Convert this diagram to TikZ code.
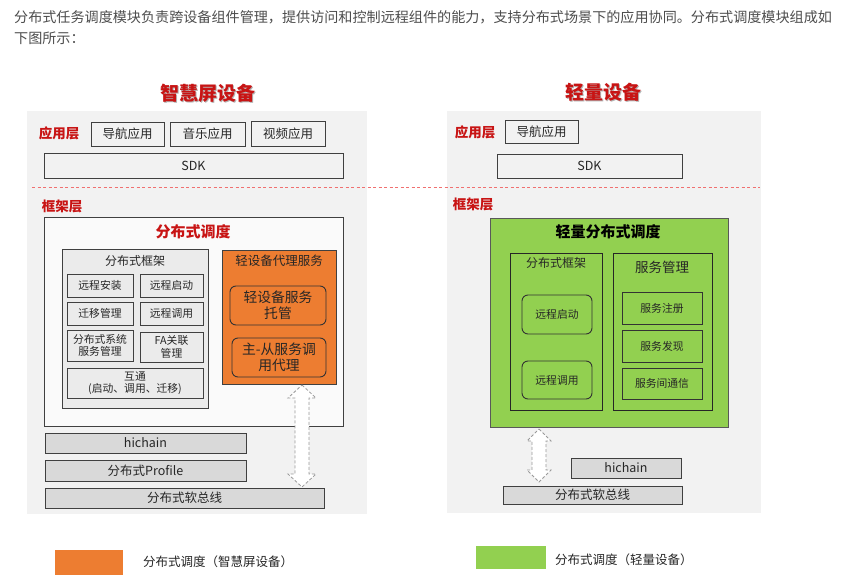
\documentclass[tikz,border=0pt]{standalone}
\usepackage{fontspec}
\setmainfont{Noto Sans CJK SC}
\usetikzlibrary{calc}
\definecolor{panelgray}{HTML}{F2F2F2}
\definecolor{boxgray}{HTML}{EBEBEB}
\definecolor{bargray}{HTML}{D9D9D9}
\definecolor{lineclr}{HTML}{404040}
\definecolor{redt}{HTML}{C81414}
\definecolor{orangef}{HTML}{ED7D31}
\definecolor{greenf}{HTML}{92D050}
\definecolor{bodytext}{HTML}{4D4D4D}
\definecolor{dashred}{HTML}{F07070}
\newcommand{\fs}[1]{\fontsize{#1pt}{\dimexpr #1pt*6/5\relax}\selectfont}
\tikzset{
  panel/.style={fill=panelgray, draw=none, inner sep=0},
  box/.style={draw=lineclr, line width=0.9pt, fill=panelgray, inner sep=0, align=center, text=black!85, font=\fs{12.5}},
  smallbox/.style={draw=lineclr, line width=0.9pt, fill=boxgray, inner sep=0, align=center, text=black!85, font=\fontsize{10.8pt}{12.5pt}\selectfont},
  bar/.style={draw=lineclr, line width=0.9pt, fill=bargray, inner sep=0, align=center, text=black!85, font=\fs{12.5}},
  rbox/.style={draw=black!80, line width=0.9pt, rounded corners=6pt, inner sep=0, align=center, text=black!85},
  redlabel/.style={text=redt, font=\bfseries\fs{13.5}, inner sep=0},
  bigtitle/.style={text=redt, font=\bfseries\fs{19}, inner sep=0},
  shadowtitle/.style={text=black!30, font=\bfseries\fs{19}, inner sep=0},
  dblarrow/.style={draw=gray!80, densely dashed, line width=0.8pt, fill=white},
  ttl/.style={inner sep=0, text=black!85}
}
\begin{document}
\begin{tikzpicture}[x=1pt,y=-1pt]
\useasboundingbox (0,0) rectangle (855,576);
\fill[white] (0,0) rectangle (855,576);

% intro text
\node[anchor=west, inner sep=0, text=bodytext, font=\fs{14.1}] (intro1) at (14,17) {分布式任务调度模块负责跨设备组件管理，提供访问和控制远程组件的能力，支持分布式场景下的应用协同。分布式调度模块组成如};
\node[anchor=west, inner sep=0, text=bodytext, font=\fs{14.1}] (intro2) at (14,38) {下图所示：};

% panels
\node[panel, minimum width=340, minimum height=403] (lp) at (197,312.5) {};
\node[panel, minimum width=314, minimum height=402] (rp) at (604,312) {};

% titles
\node[shadowtitle] at (209,94) {智慧屏设备};
\node[bigtitle] (t1) at (208,93) {智慧屏设备};
\node[shadowtitle] at (604,93) {轻量设备};
\node[bigtitle] (t2) at (603,92) {轻量设备};

% dashed separator
\coordinate (dl) at (32,187);
\coordinate (dr) at (760,187);
\draw[dashred, dash pattern=on 3pt off 2.5pt, line width=0.9pt] (dl) -- (dr);

% ===== left device =====
\node[redlabel] (al1) at (59,133) {应用层};
\node[box, minimum width=73, minimum height=24] (nav1) at (127.5,134) {导航应用};
\node[box, minimum width=75, minimum height=24] (music) at (207.5,134) {音乐应用};
\node[box, minimum width=74, minimum height=25] (video) at (288,133.5) {视频应用};
\node[box, minimum width=299, minimum height=25] (sdk1) at (193.5,165.5) {SDK};
\node[redlabel] (fl1) at (62,206) {框架层};

\node[box, fill=white!98!black, minimum width=299, minimum height=209] (sched) at (193.5,321.5) {};
\node[text=redt, font=\bfseries\fs{15}, inner sep=0] (schedt) at (193,232) {分布式调度};

\node[box, fill=boxgray, minimum width=146, minimum height=159] (dfw) at (135,328.5) {};
\node[ttl, font=\fs{12}] (dfwt) at (135,261) {分布式框架};
\node[smallbox, minimum width=66, minimum height=23] (b11) at (100,285.5) {远程安装};
\node[smallbox, minimum width=63, minimum height=23] (b12) at (171.5,285.5) {远程启动};
\node[smallbox, minimum width=66, minimum height=23] (b21) at (100,313.5) {迁移管理};
\node[smallbox, minimum width=63, minimum height=23] (b22) at (171.5,313.5) {远程调用};
\node[smallbox, minimum width=66, minimum height=31] (b31) at (100,345.5) {分布式系统\\服务管理};
\node[smallbox, minimum width=63, minimum height=30] (b32) at (171.5,347) {FA关联\\管理};
\node[smallbox, minimum width=136, minimum height=30] (b4) at (135,383) {互通\\(启动、调用、迁移)};

\node[box, fill=orangef, minimum width=114, minimum height=134] (orng) at (279,317) {};
\node[ttl, font=\fs{12.5}] (orngt) at (279,261) {轻设备代理服务};
\node[rbox, fill=orangef, minimum width=96, minimum height=39, font=\fontsize{13.8pt}{16pt}\selectfont] (r1) at (278,305.5) {轻设备服务\\托管};
\node[rbox, fill=orangef, minimum width=94, minimum height=39, font=\fontsize{13.8pt}{16pt}\selectfont] (r2) at (279,357.5) {主-从服务调\\用代理};

\node[bar, minimum width=201, minimum height=20] (hc1) at (145.5,443) {hichain};
\node[bar, minimum width=201, minimum height=21] (prof) at (145.5,470.5) {分布式Profile};
\node[bar, minimum width=279, minimum height=20] (bus1) at (184.5,498) {分布式软总线};

% left double arrow (orng <-> bus1)
\draw[dblarrow] (302,385) -- (316,398) -- (309,398) -- (309,474) -- (316,474) -- (302,487)
  -- (288,474) -- (295,474) -- (295,398) -- (288,398) -- cycle;

% ===== right device =====
\node[redlabel] (al2) at (475,132) {应用层};
\node[box, minimum width=73, minimum height=23] (nav2) at (541.5,131.5) {导航应用};
\node[box, minimum width=185, minimum height=24] (sdk2) at (589.5,166) {SDK};
\node[redlabel] (fl2) at (473,204) {框架层};

\node[box, fill=greenf, draw=black!65, minimum width=238, minimum height=209] (grn) at (609,322.5) {};
\node[ttl, font=\bfseries\fs{15}, text=black] (grnt) at (608,232) {轻量分布式调度};

\node[box, fill=greenf, draw=black!85, minimum width=92, minimum height=157] (gfw) at (556,331.5) {};
\node[ttl, font=\fs{12}] (gfwt) at (556,263) {分布式框架};
\node[rbox, fill=greenf, minimum width=70, minimum height=39, font=\fontsize{10.8pt}{12.5pt}\selectfont] (g1) at (557,314.5) {远程启动};
\node[rbox, fill=greenf, minimum width=70, minimum height=38, font=\fontsize{10.8pt}{12.5pt}\selectfont] (g2) at (557,380) {远程调用};

\node[box, fill=greenf, draw=black!85, minimum width=99, minimum height=157] (svc) at (662.5,331.5) {};
\node[ttl, font=\fs{13.5}] (svct) at (662,267) {服务管理};
\node[smallbox, fill=greenf, draw=black!80, minimum width=80, minimum height=32] (s1) at (662,308) {服务注册};
\node[smallbox, fill=greenf, draw=black!80, minimum width=80, minimum height=32] (s2) at (662,346) {服务发现};
\node[smallbox, fill=greenf, draw=black!80, minimum width=80, minimum height=31] (s3) at (662,383.5) {服务间通信};

\node[bar, minimum width=110, minimum height=20] (hc2) at (626,468) {hichain};
\node[bar, minimum width=179, minimum height=18] (bus2) at (592.5,495) {分布式软总线};

% right double arrow (grn <-> bus2)
\draw[dblarrow] (539,429) -- (551,441) -- (546,441) -- (546,470) -- (551,470) -- (539,482)
  -- (527,470) -- (532,470) -- (532,441) -- (527,441) -- cycle;

% ===== legend =====
\node[fill=orangef, inner sep=0, minimum width=68, minimum height=25] (lego) at (89,562.5) {};
\node[anchor=west, inner sep=0, text=black!85, font=\fs{12.5}] (legot) at (143,562) {分布式调度（智慧屏设备）};
\node[fill=greenf, inner sep=0, minimum width=70, minimum height=23] (legg) at (511,557.5) {};
\node[anchor=west, inner sep=0, text=black!85, font=\fs{12.5}] (leggt) at (555,560) {分布式调度（轻量设备）};
\end{tikzpicture}
\end{document}
